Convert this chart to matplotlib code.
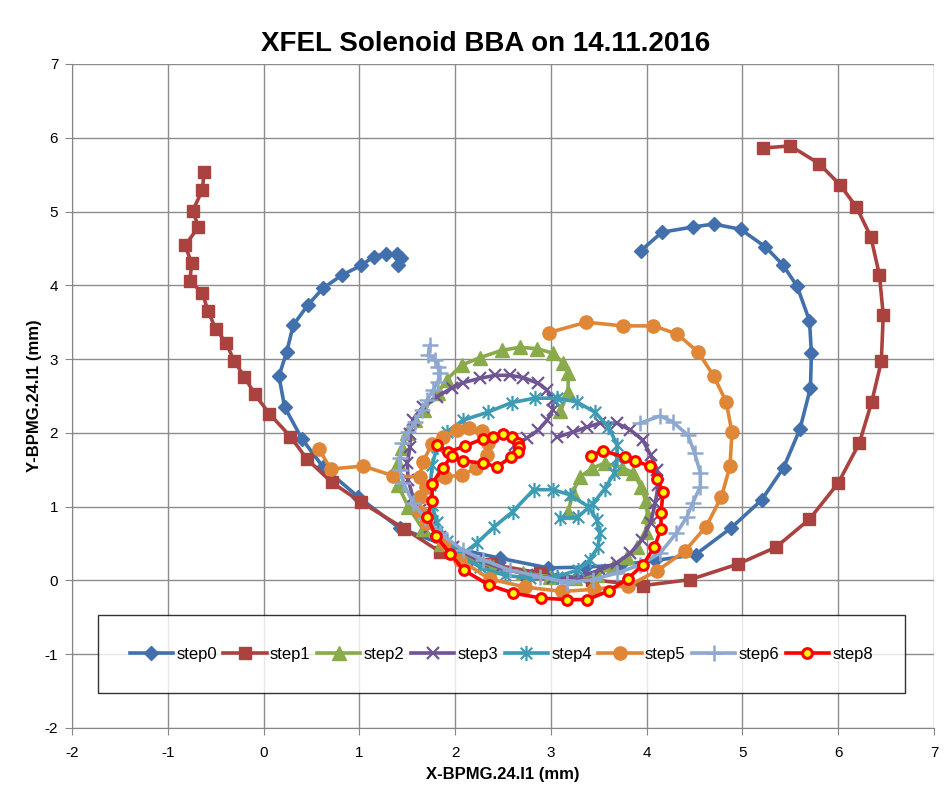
import numpy as np
import matplotlib
matplotlib.use('Agg')
import matplotlib.pyplot as plt
from matplotlib.path import Path

plt.rcParams['font.family'] = ['Liberation Sans Narrow', 'Liberation Sans', 'DejaVu Sans']
plt.rcParams['axes.unicode_minus'] = False

# BPM readings (mm) for each solenoid step
step0_x = [3.94, 4.16, 4.48, 4.70, 4.98, 5.24, 5.42, 5.57, 5.70, 5.72, 5.71, 5.60, 5.43, 5.20, 4.88, 4.51,
           4.09, 3.72, 3.36, 2.97, 2.47, 1.95, 1.42, 0.99, 0.62, 0.40, 0.22, 0.16, 0.24, 0.31, 0.46, 0.62,
           0.82, 1.02, 1.15, 1.28, 1.39, 1.44, 1.40]
step0_y = [4.47, 4.72, 4.79, 4.83, 4.76, 4.52, 4.28, 3.99, 3.52, 3.08, 2.61, 2.05, 1.53, 1.09, 0.71, 0.35,
           0.27, 0.21, 0.18, 0.17, 0.30, 0.45, 0.71, 1.13, 1.54, 1.92, 2.35, 2.77, 3.09, 3.46, 3.73, 3.96,
           4.14, 4.27, 4.39, 4.43, 4.42, 4.37, 4.28]

step1_x = [5.21, 5.50, 5.80, 6.02, 6.19, 6.34, 6.43, 6.47, 6.45, 6.35, 6.22, 6.00, 5.70, 5.35, 4.95, 4.45,
           3.96, 3.43, 2.89, 2.37, 1.84, 1.47, 1.02, 0.71, 0.45, 0.28, 0.06, -0.09, -0.20, -0.31, -0.39,
           -0.50, -0.58, -0.64, -0.77, -0.75, -0.82, -0.68, -0.74, -0.64, -0.62]
step1_y = [5.86, 5.89, 5.65, 5.36, 5.06, 4.66, 4.14, 3.60, 2.97, 2.42, 1.86, 1.32, 0.83, 0.45, 0.22, 0.01,
           -0.07, 0.01, 0.10, 0.22, 0.39, 0.70, 1.06, 1.33, 1.65, 1.95, 2.26, 2.52, 2.76, 2.98, 3.22,
           3.41, 3.65, 3.90, 4.06, 4.30, 4.54, 4.79, 5.01, 5.29, 5.54]

step2_x = [3.18, 3.23, 3.30, 3.43, 3.56, 3.74, 3.86, 3.94, 3.99, 4.01, 3.99, 3.90, 3.79, 3.65, 3.48, 3.25,
           2.99, 2.71, 2.40, 2.10, 1.85, 1.66, 1.51, 1.40, 1.40, 1.45, 1.50, 1.58, 1.67, 1.82, 1.91, 2.07,
           2.26, 2.49, 2.68, 2.86, 3.02, 3.13, 3.18, 3.18, 3.10]
step2_y = [0.93, 1.19, 1.40, 1.52, 1.59, 1.53, 1.46, 1.27, 1.08, 0.87, 0.65, 0.45, 0.32, 0.18, 0.08, 0.03,
           0.05, 0.10, 0.18, 0.33, 0.50, 0.70, 1.00, 1.30, 1.59, 1.80, 2.00, 2.18, 2.31, 2.54, 2.72, 2.92,
           3.02, 3.12, 3.16, 3.14, 3.08, 2.95, 2.81, 2.56, 2.29]

step3_x = [2.63, 2.75, 2.87, 2.96, 3.02, 3.02, 2.96, 2.87, 2.71, 2.57, 2.42, 2.26, 2.08, 1.97, 1.81, 1.66,
           1.56, 1.53, 1.53, 1.50, 1.51, 1.56, 1.63, 1.74, 1.84, 1.98, 2.23, 2.47, 2.75, 3.02, 3.30, 3.51,
           3.69, 3.83, 3.95, 4.04, 4.09, 4.12, 4.11, 4.04, 3.96, 3.83, 3.69, 3.51, 3.38, 3.23, 3.06]
step3_y = [1.84, 1.93, 2.04, 2.17, 2.31, 2.45, 2.58, 2.67, 2.75, 2.78, 2.78, 2.74, 2.68, 2.61, 2.49, 2.35,
           2.18, 1.99, 1.81, 1.59, 1.36, 1.13, 0.96, 0.73, 0.59, 0.45, 0.28, 0.17, 0.08, 0.03, 0.05, 0.14,
           0.24, 0.37, 0.55, 0.78, 1.05, 1.29, 1.50, 1.70, 1.90, 2.04, 2.13, 2.13, 2.08, 2.01, 1.94]

step4_x = [3.09, 3.28, 3.44, 3.56, 3.66, 3.69, 3.69, 3.60, 3.46, 3.27, 3.06, 2.83, 2.59, 2.34, 2.08, 1.91,
           1.81, 1.76, 1.74, 1.76, 1.81, 1.91, 2.05, 2.26, 2.52, 2.78, 3.06, 3.28, 3.41, 3.49, 3.51, 3.48,
           3.39, 3.20, 3.02, 2.82, 2.60, 2.41, 2.23, 2.07]
step4_y = [0.84, 0.86, 1.04, 1.24, 1.45, 1.66, 1.84, 2.08, 2.28, 2.42, 2.47, 2.47, 2.41, 2.28, 2.17, 2.01,
           1.81, 1.56, 1.29, 1.02, 0.79, 0.54, 0.34, 0.18, 0.07, 0.03, 0.05, 0.14, 0.28, 0.45, 0.64, 0.82,
           1.00, 1.16, 1.23, 1.23, 0.93, 0.73, 0.51, 0.35]

step5_x = [2.98, 3.37, 3.75, 4.07, 4.32, 4.54, 4.70, 4.83, 4.89, 4.87, 4.78, 4.62, 4.40, 4.11, 3.81, 3.45,
           3.12, 2.73, 2.36, 2.05, 1.88, 1.70, 1.63, 1.63, 1.70, 1.89, 2.07, 2.22, 2.33, 2.34, 2.28, 2.15,
           2.02, 1.87, 1.76, 1.66, 1.63, 1.35, 1.04, 0.70, 0.58]
step5_y = [3.36, 3.50, 3.45, 3.45, 3.34, 3.09, 2.77, 2.42, 2.01, 1.55, 1.13, 0.73, 0.40, 0.13, -0.07, -0.12,
           -0.15, -0.09, 0.02, 0.28, 0.51, 0.78, 0.93, 1.13, 1.27, 1.40, 1.43, 1.52, 1.70, 1.86, 2.02, 2.06,
           2.04, 1.95, 1.85, 1.60, 1.40, 1.42, 1.55, 1.51, 1.78]

step6_x = [3.93, 4.14, 4.27, 4.43, 4.50, 4.56, 4.56, 4.48, 4.42, 4.31, 4.14, 3.93, 3.69, 3.44, 3.17, 2.89,
           2.57, 2.29, 2.08, 1.84, 1.69, 1.56, 1.46, 1.42, 1.42, 1.45, 1.51, 1.58, 1.65, 1.71, 1.77, 1.82,
           1.84, 1.82, 1.79, 1.72, 1.74]
step6_y = [2.13, 2.23, 2.15, 1.97, 1.73, 1.46, 1.27, 1.05, 0.86, 0.64, 0.37, 0.21, 0.10, 0.01, -0.03, 0.05,
           0.14, 0.28, 0.41, 0.64, 0.84, 1.05, 1.32, 1.50, 1.66, 1.86, 2.01, 2.15, 2.31, 2.45, 2.58, 2.69,
           2.81, 2.89, 2.99, 3.06, 3.19]

step8_x = [1.81, 1.93, 2.10, 2.29, 2.40, 2.50, 2.59, 2.66, 2.67, 2.66, 2.58, 2.44, 2.29, 2.08, 1.97, 1.87,
           1.76, 1.76, 1.71, 1.80, 1.95, 2.09, 2.35, 2.60, 2.90, 3.17, 3.38, 3.61, 3.80, 3.96, 4.08, 4.15,
           4.15, 4.17, 4.11, 4.03, 3.88, 3.77, 3.54, 3.42]
step8_y = [1.84, 1.74, 1.82, 1.92, 1.95, 1.98, 1.95, 1.86, 1.81, 1.74, 1.67, 1.54, 1.59, 1.62, 1.69, 1.53,
           1.31, 1.08, 0.86, 0.60, 0.36, 0.14, -0.06, -0.17, -0.24, -0.26, -0.26, -0.14, 0.02, 0.21, 0.45, 0.70,
           0.91, 1.20, 1.38, 1.55, 1.62, 1.67, 1.76, 1.69]

# asterisk marker: vertical bar plus a cross
star = Path([(0, -1), (0, 1), (-0.75, -0.75), (0.75, 0.75), (-0.75, 0.75), (0.75, -0.75)],
            [Path.MOVETO, Path.LINETO, Path.MOVETO, Path.LINETO, Path.MOVETO, Path.LINETO])

series = [
    ('step0', step0_x, step0_y, dict(color='#4170AC', marker='D', ms=7.5)),
    ('step1', step1_x, step1_y, dict(color='#AA4340', marker='s', ms=9)),
    ('step2', step2_x, step2_y, dict(color='#8AAB4B', marker='^', ms=9.5)),
    ('step3', step3_x, step3_y, dict(color='#6F5592', marker='x', ms=9, mew=1.6)),
    ('step4', step4_x, step4_y, dict(color='#3E9BB4', marker=star, ms=11, mew=1.6)),
    ('step5', step5_x, step5_y, dict(color='#E08637', marker='o', ms=9.5)),
    ('step6', step6_x, step6_y, dict(color='#8FA8D0', marker='+', ms=11, mew=1.8)),
    ('step8', step8_x, step8_y, dict(color='#FF0000', marker='o', ms=7, mfc='#FFFF00', mec='#FF0000', mew=2.2)),
]

fig = plt.figure(figsize=(9.49, 7.91), dpi=100)
ax = fig.add_axes([0.0759, 0.0797, 0.9083, 0.8394])

for name, xs, ys, style in series:
    ax.plot(xs, ys, lw=2.6, label=name, **style)

ax.set_xlim(-2, 7)
ax.set_ylim(-2, 7)
ax.set_xticks(np.arange(-2, 8, 1))
ax.set_yticks(np.arange(-2, 8, 1))
ax.grid(True, color='#8C8C8C', lw=1.0)
ax.set_axisbelow(True)
for side in ['top', 'right']:
    ax.spines[side].set_visible(False)
ax.spines['left'].set_color('#868686')
ax.spines['bottom'].set_color('#868686')
ax.tick_params(direction='out', length=5, color='#868686', labelsize=11)
ax.tick_params(axis='x', pad=8)
ax.tick_params(axis='y', pad=5)

ax.set_xlabel('X-BPMG.24.I1 (mm)', fontsize=12, fontweight='bold', labelpad=5)
ax.set_ylabel('Y-BPMG.24.I1 (mm)', fontsize=12, fontweight='bold', labelpad=2)
fig.text(0.512, 0.945, 'XFEL Solenoid BBA on 14.11.2016', fontsize=20, fontweight='bold',
         ha='center', va='center')

leg = ax.legend(loc='center', ncol=8, mode='expand',
                bbox_to_anchor=(0.030, 0.053, 0.936, 0.116), borderaxespad=0,
                fontsize=12, frameon=True, fancybox=False, edgecolor='black',
                handlelength=2.6, handletextpad=0.2, columnspacing=0.8, borderpad=1.9)
leg.get_frame().set_linewidth(1.0)

fig.savefig('out.png', dpi=100)
